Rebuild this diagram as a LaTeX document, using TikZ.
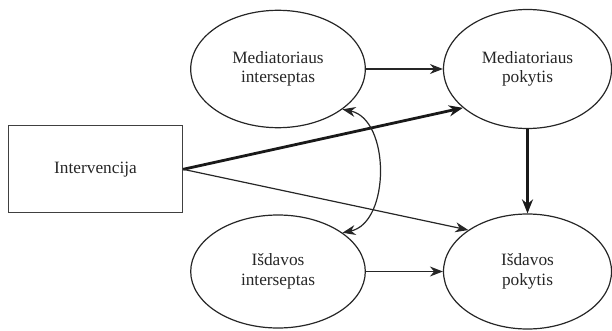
\documentclass[tikz,border=0pt]{standalone}
\usepackage{fontspec}
\setmainfont{Liberation Serif}
\usetikzlibrary{shapes.geometric,arrows.meta,calc}
\begin{document}
\begin{tikzpicture}[x=1pt,y=1pt,
  every node/.style={font=\fontsize{17.3}{19.5}\selectfont, text=black!85, align=center, inner sep=0pt},
  oval/.style={ellipse, draw=black!85, line width=1.2pt},
  boxnode/.style={rectangle, draw=black!75, line width=1.3pt, minimum width=174pt, minimum height=87pt},
  thinarr/.style={draw=black!85, line width=1.2pt, -{Stealth[length=13pt,width=10pt]}},
  thickarr/.style={draw=black!90, line width=2.8pt, -{Stealth[length=14pt,width=11pt]}},
  bothway/.style={draw=black!85, line width=1.2pt, {Stealth[length=13pt,width=10pt]}-{Stealth[length=13pt,width=10pt]}}]
  \useasboundingbox (0,0) rectangle (612,330);
  % nodes
  \node[boxnode] (r) at (95.5,160.7) {Intervencija};
  \node[oval, minimum width=174.6pt, minimum height=117.4pt] (m1) at (278,261) {Mediatoriaus\\interseptas};
  \node[oval, minimum width=168pt, minimum height=119pt] (m2) at (527.5,261) {Mediatoriaus\\pokytis};
  \node[oval, minimum width=174.6pt, minimum height=113pt] (i1) at (278,58.5) {Išdavos\\interseptas};
  \node[oval, minimum width=168pt, minimum height=115pt] (i2) at (527.5,58.5) {Išdavos\\pokytis};
  % paths
  \draw[thinarr] (m1.east) -- (m2.west);
  \draw[thinarr] (i1.east) -- (i2.west);
  \draw[thickarr] (r.east) -- (m2.211);
  \draw[thinarr] (r.east) -- (i2.145);
  \draw[thickarr] (m2.south) -- (i2.north);
  \draw[bothway] (m1.-32) .. controls ($(m1.-32)+(48,-10)$) and ($(i1.31)+(48,10)$) .. (i1.31);
\end{tikzpicture}
\end{document}
